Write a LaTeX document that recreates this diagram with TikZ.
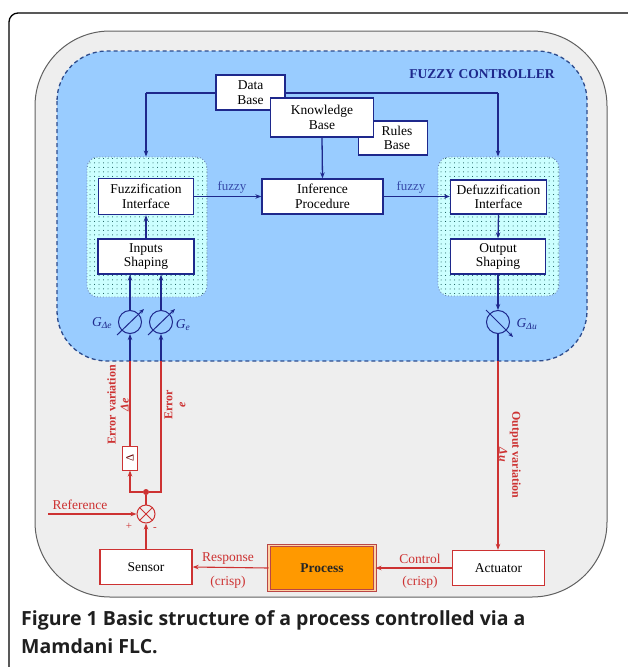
\documentclass[tikz,border=0pt]{standalone}
\usepackage{fontspec}
\setmainfont{Liberation Serif}
\newfontfamily\capfont{Open Sans}
\usetikzlibrary{arrows.meta,patterns.meta,calc}
\definecolor{navy}{RGB}{30,40,140}
\definecolor{bluefill}{RGB}{153,204,255}
\definecolor{dashcol}{RGB}{45,75,140}
\definecolor{grayfill}{RGB}{238,238,238}
\definecolor{cyanfill}{RGB}{204,255,255}
\definecolor{redc}{RGB}{205,50,50}
\definecolor{orangec}{RGB}{255,153,0}
\definecolor{fuzzyc}{RGB}{55,75,170}
\tikzset{
  bx/.style={draw=navy, line width=1.3pt, fill=white, align=center, inner sep=0pt,
    font=\fontsize{13.5}{14.5}\selectfont},
  rbx/.style={draw=redc, line width=1.3pt, fill=white, align=center, inner sep=0pt,
    font=\fontsize{13.5}{14.5}\selectfont},
  grp/.style={draw=dashcol!70, dotted, line width=0.9pt, fill=cyanfill, rounded corners=11pt,
    inner sep=0pt, postaction={pattern={Dots[distance=4.5pt,radius=0.5pt]}, pattern color=teal!55!black}},
  conn/.style={navy, line width=1.3pt, -{Stealth[length=6pt,width=4.5pt]}},
  bline/.style={navy, line width=1.3pt},
  rconn/.style={redc, line width=1.1pt, -{Stealth[length=6pt,width=4.5pt]}},
  rline/.style={redc, line width=1.1pt},
  gcirc/.style={circle, draw=navy, line width=1pt, minimum size=23pt, inner sep=0pt},
  garrow/.style={navy, line width=1pt, -{Stealth[length=5pt,width=4pt]}},
  rtext/.style={text=redc, font=\fontsize{13.5}{14.5}\selectfont},
  vtext/.style={text=redc, align=center, font=\bfseries\fontsize{12}{13}\selectfont},
  ftext/.style={text=fuzzyc, font=\fontsize{13}{14}\selectfont},
  gtext/.style={text=navy, font=\fontsize{13.5}{14}\selectfont},
  captext/.style={anchor=base west, inner sep=0pt, text=black!88, font=\capfont\bfseries\fontsize{19.5}{22}\selectfont}
}
\begin{document}
\begin{tikzpicture}[x=1pt,y=-1pt]
\useasboundingbox (0,0) rectangle (627,667);
% figure frame
\draw[line width=1.3pt, rounded corners=9pt] (9,668) -- (9,13) -- (628,13);
% outer gray region
\draw[gray!75!black, line width=1pt, fill=grayfill, rounded corners=75pt] (35,31) rectangle (607,597);
% fuzzy controller region
\draw[dashcol, line width=1.3pt, dash pattern=on 4pt off 3pt, fill=bluefill, rounded corners=50pt] (57,51) rectangle (587,361);
\node[text=navy, font=\bfseries\fontsize{13.5}{14}\selectfont] (title) at (482,74) {FUZZY CONTROLLER};

% groups
\node[grp, minimum width=120pt, minimum height=140pt] (lg) at (147,227) {};
\node[grp, minimum width=121pt, minimum height=139pt] (rg) at (498.5,226.5) {};

% bus
\coordinate (bl) at (146,93);
\coordinate (br) at (498,93);
\draw[bline] (bl) -- (br);

% knowledge base boxes
\node[bx, minimum width=69pt, minimum height=35pt] (db) at (250.5,92.5) {Data\\Base};
\node[bx, minimum width=69pt, minimum height=34pt] (rb) at (393,138) {\hspace*{8pt}Rules\\\hspace*{8pt}Base};
\node[bx, minimum width=103pt, minimum height=39pt] (kb) at (322,117.5) {Knowledge\\Base};

% inner boxes
\node[bx, minimum width=95pt, minimum height=36pt] (fz) at (146,196.5) {Fuzzification\\Interface};
\node[bx, minimum width=96pt, minimum height=35pt] (is) at (146,256.5) {Inputs\\Shaping};
\node[bx, minimum width=121pt, minimum height=35pt] (inf) at (322.5,196.5) {Inference\\Procedure};
\node[bx, minimum width=96pt, minimum height=34pt] (dz) at (498.5,197) {Defuzzification\\Interface};
\node[bx, minimum width=95pt, minimum height=35pt] (os) at (498,256.5) {Output\\Shaping};

% connectors in controller
\draw[conn] (bl) -- (bl |- lg.north);
\draw[conn] (br) -- (br |- rg.north);
\draw[conn] (kb.south) -- (inf.north);
\draw[conn] (is.north) -- (fz.south);
\draw[conn] (fz.east) -- (fz.east -| inf.west);
\draw[conn] (inf.east) -- (inf.east -| dz.west);
\draw[conn] (dz.south) -- (os.south |- os.north);
\node[ftext] (fl1) at (232,187) {fuzzy};
\node[ftext] (fl2) at (411,187) {fuzzy};

% gains
\node[gcirc] (ga) at (130,322) {};
\node[gcirc] (ge) at (161,322) {};
\node[gcirc] (gu) at (498,322) {};
\draw[garrow] ($(ga)+(-13,13)$) -- ($(ga)+(14,-13)$);
\draw[garrow] ($(ge)+(-13,13)$) -- ($(ge)+(14,-13)$);
\draw[garrow] ($(gu)+(-12,-12)$) -- ($(gu)+(15,15)$);
\node[gtext] (gal) at (102,323) {\textit{G}\textsubscript{\textit{Δe}}};
\node[gtext] (gel) at (183,325) {\textit{G}\textsubscript{\textit{e}}};
\node[gtext] (gul) at (527,324) {\textit{G}\textsubscript{\textit{Δu}}};
\draw[conn] (ga.north) -- (ga.north |- is.south);
\draw[conn] (ge.north) -- (ge.north |- is.south);
\draw[conn] (os.south) -- (gu.north);

% boundary crossing points
\coordinate (xa) at (130,361);
\coordinate (xe) at (161,361);
\coordinate (xu) at (498,361);

% error branch
\node[rbx, line width=1pt, minimum width=15pt, minimum height=24pt, text=red!40!black] (dbox) at (130,458) {\rotatebox{90}{\fontsize{11}{12}\selectfont Δ}};
\node[circle, fill=redc, inner sep=0pt, minimum size=6pt] (dot) at (146,492) {};
\node[circle, draw=redc, line width=1pt, minimum size=18pt, inner sep=0pt] (sum) at (146,514) {};
\draw[redc, line width=1pt] (sum.north west) -- (sum.south east) (sum.north east) -- (sum.south west);
\draw[rline] (sum.north) -- (dot);
\draw[rconn] (dot) -| (dbox.south);
\draw[rline] (dot) -| (xe);
\draw[rline] (dbox.north) -- (xa);
\draw[conn] (xa) -- (ga.south);
\draw[conn] (xe) -- (ge.south);
\coordinate (refs) at (48,514);
\draw[rconn] (refs) -- (sum.west);
\node[rtext] (reft) at (80,505) {Reference};
\node[text=redc, font=\fontsize{11}{12}\selectfont] (plus) at (129,526) {+};
\node[text=redc, font=\fontsize{11}{12}\selectfont] (minus) at (155,529) {-};
\node[vtext, rotate=90] (evl) at (118,405) {Error variation\\\textit{Δe}};
\node[vtext, rotate=90] (el) at (175,405) {Error\\\textit{e}};

% output branch
\draw[bline] (gu.south) -- (xu);
\node[vtext, rotate=-90] (ovl) at (510,455) {Output variation\\\textit{Δu}};

% plant
\node[rbx, minimum width=92pt, minimum height=35pt] (sens) at (146,567) {Sensor};
\node[draw=red!45!gray, double=orange!35, double distance=1.6pt, line width=1pt, fill=orangec,
  minimum width=106pt, minimum height=45pt, inner sep=0pt,
  font=\bfseries\fontsize{13.5}{14.5}\selectfont, text=black!85] (proc) at (322,568) {Process};
\node[rbx, minimum width=92pt, minimum height=35pt] (act) at (498.5,568) {Actuator};
\draw[rconn] (xu) -- (xu |- act.north);
\draw[rconn] (sens.north) -- (sum.south);
\draw[rconn] (act.west) -- (proc.east);
\draw[rconn] (proc.west) -- (sens.east);
\node[rtext] (rl1) at (228,559) {Response};
\node[rtext] (rl2) at (228,582) {(crisp)};
\node[rtext] (cl1) at (420,559) {Control};
\node[rtext] (cl2) at (420,582) {(crisp)};

% caption
\node[captext] (cap1) at (21,625) {Figure 1 Basic structure of a process controlled via a};
\node[captext] (cap2) at (21,653) {Mamdani FLC.};
\end{tikzpicture}
\end{document}
